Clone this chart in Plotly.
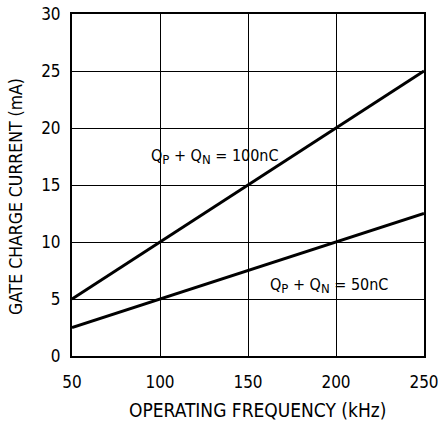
import plotly.graph_objects as go

freq_khz = [50, 250]
current_100nc = [5, 25]
current_50nc = [2.5, 12.5]
x_ticks = [50, 100, 150, 200, 250]
y_ticks = [0, 5, 10, 15, 20, 25, 30]
SUB = "<sub><span style='font-size:13px'>{}</span></sub>"
label_100 = "Q" + SUB.format("P") + " + Q" + SUB.format("N") + " = 100nC"
label_50 = "Q" + SUB.format("P") + " + Q" + SUB.format("N") + " = 50nC"
x_title = "OPERATING FREQUENCY (kHz)"
y_title = "GATE CHARGE CURRENT (mA)"

FONT = "DejaVu Sans Condensed, Roboto, Liberation Sans, Arial"

fig = go.Figure()
fig.add_trace(go.Scatter(x=freq_khz, y=current_100nc, mode="lines",
                         line=dict(color="black", width=3), showlegend=False))
fig.add_trace(go.Scatter(x=freq_khz, y=current_50nc, mode="lines",
                         line=dict(color="black", width=3), showlegend=False))

fig.add_annotation(x=131, y=17.5, text=label_100, showarrow=False,
                   font=dict(family=FONT, size=16, color="black"))
fig.add_annotation(x=196, y=6.2, text=label_50, showarrow=False,
                   font=dict(family=FONT, size=16, color="black"))

fig.add_annotation(xref="paper", yref="paper", x=0.528, y=-0.158,
                   xanchor="center", yanchor="middle", text=x_title,
                   showarrow=False, font=dict(family=FONT, size=19, color="black"))
fig.add_annotation(xref="paper", yref="paper", x=-0.159, y=0.465,
                   xanchor="center", yanchor="middle", text=y_title, textangle=-90,
                   showarrow=False, font=dict(family=FONT, size=17.5, color="black"))

fig.update_layout(
    width=438, height=421,
    margin=dict(l=72, r=14, t=14, b=65),
    paper_bgcolor="white", plot_bgcolor="white",
    font=dict(family=FONT, size=16, color="black"),
)
fig.update_xaxes(range=[50, 250], tickvals=x_ticks, showgrid=True,
                 gridcolor="black", gridwidth=1, showline=True, linecolor="black",
                 linewidth=2, mirror=True, ticks="outside", ticklen=10,
                 tickcolor="rgba(0,0,0,0)", zeroline=False, automargin=False,
                 ticklabeloverflow="allow", tickfont=dict(size=17))
fig.update_yaxes(range=[0, 30], tickvals=y_ticks, showgrid=True,
                 gridcolor="black", gridwidth=1, showline=True, linecolor="black",
                 linewidth=2, mirror=True, ticks="outside", ticklen=6,
                 tickcolor="rgba(0,0,0,0)", zeroline=False, automargin=False,
                 tickfont=dict(size=17))

fig.write_html("out.html")
